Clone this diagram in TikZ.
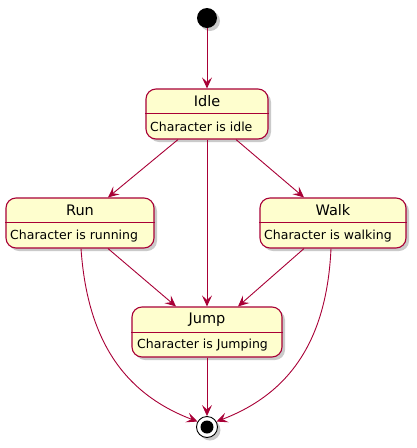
\documentclass[tikz,border=0pt]{standalone}
\usepackage{fontspec}
\setmainfont{DejaVu Sans}
\usetikzlibrary{arrows.meta,shadows}
\definecolor{stfill}{HTML}{FEFECE}
\definecolor{stline}{HTML}{A80036}
\tikzset{
  stbox/.style={draw=stline, fill=stfill, line width=1.1pt, rounded corners=10pt,
    minimum width=#1, minimum height=50pt, inner sep=0pt,
    drop shadow={shadow xshift=3pt, shadow yshift=-3pt, fill=black!35, opacity=0.6}},
  sttitle/.style={font=\fontsize{14.5pt}{16pt}\selectfont, inner sep=0pt, anchor=center},
  stbody/.style={font=\fontsize{12.5pt}{14pt}\selectfont, inner sep=0pt, anchor=west},
  tr/.style={draw=stline, line width=0.9pt, -{Stealth[length=11pt,width=10pt,inset=4.5pt]}},
  divider/.style={draw=stline, line width=1pt},
}
\begin{document}
\begin{tikzpicture}[x=1pt,y=-1pt]
\useasboundingbox (0,0) rectangle (417,448);
% start
\node[circle, fill=black, minimum size=20pt, inner sep=0pt,
  drop shadow={shadow xshift=3pt, shadow yshift=-3pt, fill=black!35, opacity=0.6}] (start) at (207,18) {};
% states
\node[stbox=122pt] (idle) at (207,114) {};
\node[stbox=148pt] (run) at (80,223) {};
\node[stbox=146pt] (walk) at (333,223) {};
\node[stbox=150pt] (jump) at (207,332) {};
% end
\node[circle, draw=black, fill=white, line width=0.9pt, minimum size=21pt, inner sep=0pt,
  drop shadow={shadow xshift=3pt, shadow yshift=-3pt, fill=black!35, opacity=0.6}] (endc) at (207,427) {};
\node[circle, fill=black, minimum size=13pt, inner sep=0pt] (endi) at (207,427) {};
% titles and bodies
\node[sttitle] (idlet) at (207,101) {Idle};
\node[stbody] (idleb) at (150,127) {Character is idle};
\draw[divider] ([yshift=-25pt]idle.north west) -- ([yshift=-25pt]idle.north east);
\node[sttitle] (runt) at (80,210) {Run};
\node[stbody] (runb) at (10,236) {Character is running};
\draw[divider] ([yshift=-25pt]run.north west) -- ([yshift=-25pt]run.north east);
\node[sttitle] (walkt) at (333,210) {Walk};
\node[stbody] (walkb) at (264,236) {Character is walking};
\draw[divider] ([yshift=-25pt]walk.north west) -- ([yshift=-25pt]walk.north east);
\node[sttitle] (jumpt) at (207,320) {Jump};
\node[stbody] (jumpb) at (137,345) {Character is Jumping};
\draw[divider] ([yshift=-26pt]jump.north west) -- ([yshift=-26pt]jump.north east);
% transitions
\draw[tr] (start) -- (idle.north);
\draw[tr] ([xshift=-29pt]idle.south) -- ([xshift=28pt]run.north);
\draw[tr] ([xshift=29pt]idle.south) -- ([xshift=-29pt]walk.north);
\draw[tr] (idle.south) -- (jump.north);
\draw[tr] ([xshift=28pt]run.south) -- ([xshift=-31pt]jump.north);
\draw[tr] ([xshift=-29pt]walk.south) -- ([xshift=31pt]jump.north);
\draw[tr] ([xshift=1pt]run.south) .. controls (87,335) and (120,392) .. (endc.150);
\draw[tr] ([xshift=-2pt]walk.south) .. controls (327,335) and (294,392) .. (endc.30);
\draw[tr] (jump.south) -- (endc.north);
\end{tikzpicture}
\end{document}
